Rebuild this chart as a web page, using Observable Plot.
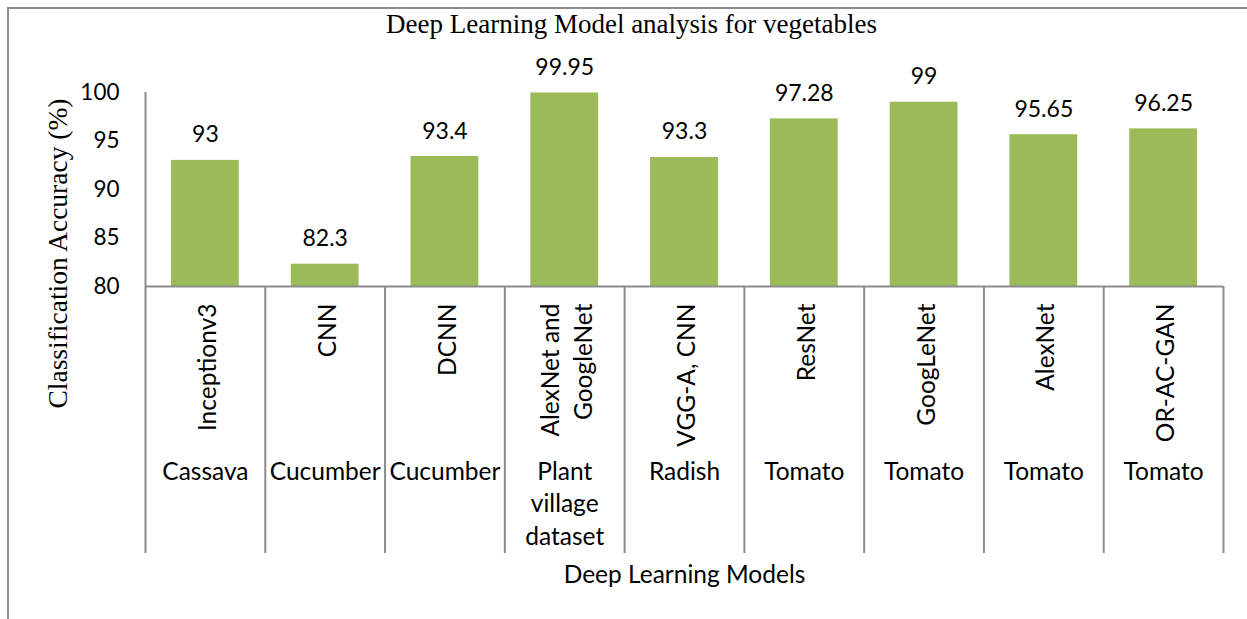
<!DOCTYPE html>
<html>
<head>
<meta charset="utf-8">
<script src="https://cdn.jsdelivr.net/npm/d3@7"></script>
<script src="https://cdn.jsdelivr.net/npm/@observablehq/plot@0.6"></script>
<style>
  html, body { margin: 0; padding: 0; background: #ffffff; }
  #wrap { position: relative; width: 1247px; height: 619px; overflow: hidden; }
  #border { position: absolute; left: 7px; top: 7px; right: -5px; bottom: -5px;
            border-left: 2px solid #8c8c8c; border-top: 2px solid #8c8c8c; pointer-events: none; }
  #chart { position: absolute; left: 0; top: 0; }
</style>
</head>
<body>
<div id="wrap"><div id="chart"></div><div id="border"></div></div>
<script>
// ---- data ----
const models = ["Inceptionv3", "CNN", "DCNN", "AlexNet and\nGoogleNet", "VGG-A, CNN", "ResNet", "GoogLeNet", "AlexNet", "OR-AC-GAN"];
const crops = ["Cassava", "Cucumber", "Cucumber", "Plant\nvillage\ndataset", "Radish", "Tomato", "Tomato", "Tomato", "Tomato"];
const accuracy = [93, 82.3, 93.4, 99.95, 93.3, 97.28, 99, 95.65, 96.25];
const yTicks = [80, 85, 90, 95, 100];
const title = "Deep Learning Model analysis for vegetables";
const yLabel = "Classification Accuracy (%)";
const xLabel = "Deep Learning Models";

const data = models.map((m, i) => ({model: m, crop: crops[i], acc: accuracy[i]}));

// ---- layout ----
const W = 1247, H = 619, ML = 145, MR = 24, MT = 92, MB = 333;
const step = (W - ML - MR) / models.length;
const yMin = 80, yMax = 100;
const pxPerUnit = (H - MB - MT) / (yMax - yMin);
const sepBottom = yMin - (553 - (H - MB)) / pxPerUnit;
const gray = "#8c8c8c";
const sans = "Lato, 'Open Sans', sans-serif";
const serif = "'Liberation Serif', 'DejaVu Serif', serif";

const chart = Plot.plot({
  width: W, height: H,
  marginLeft: ML, marginRight: MR, marginTop: MT, marginBottom: MB,
  style: {fontFamily: sans, fontSize: "23px", color: "#000", background: "transparent", overflow: "visible"},
  x: {type: "band", domain: models, padding: 0, round: false, axis: null},
  y: {domain: [yMin, yMax], axis: null},
  marks: [
    Plot.barY(data, {x: "model", y1: yMin, y2: "acc", fill: "#9BBB59", insetLeft: 26, insetRight: 26}),
    Plot.ruleY([yMin], {stroke: gray, strokeWidth: 2}),
    Plot.ruleX([models[0]], {x: d => d, dx: -step / 2, y1: yMin, y2: yMax, stroke: gray, strokeWidth: 2}),
    Plot.ruleX(models, {x: d => d, dx: -step / 2, y1: yMin, y2: sepBottom, stroke: gray, strokeWidth: 2}),
    Plot.ruleX([models[models.length - 1]], {x: d => d, dx: step / 2, y1: yMin, y2: sepBottom, stroke: gray, strokeWidth: 2}),
    Plot.axisY({ticks: yTicks, tickSize: 0, tickPadding: 26, fontSize: 22.5, label: null}),
    Plot.text(data, {x: "model", y: "acc", text: d => String(d.acc), dy: -18, lineAnchor: "bottom", fontSize: 23}),
    Plot.text(data, {x: "model", y: yMin, text: "model", rotate: -90, textAnchor: "end", dy: 17, lineAnchor: "middle", lineHeight: 1.35, fontSize: 24.5}),
    Plot.text(data, {x: "model", y: yMin, text: "crop", dy: 170, lineAnchor: "top", lineHeight: 1.33, fontSize: 24.5}),
    Plot.text([title], {frameAnchor: "top", dx: -53, dy: -79, lineAnchor: "top", fontFamily: serif, fontSize: 27}),
    Plot.text([yLabel], {frameAnchor: "left", textAnchor: "middle", dx: -87, dy: 64, rotate: -90, fontFamily: serif, fontSize: 27.5}),
    Plot.text([xLabel], {frameAnchor: "bottom", dy: 279, lineAnchor: "top", fontSize: 24.5})
  ]
});
document.getElementById("chart").appendChild(chart);
</script>
</body>
</html>
